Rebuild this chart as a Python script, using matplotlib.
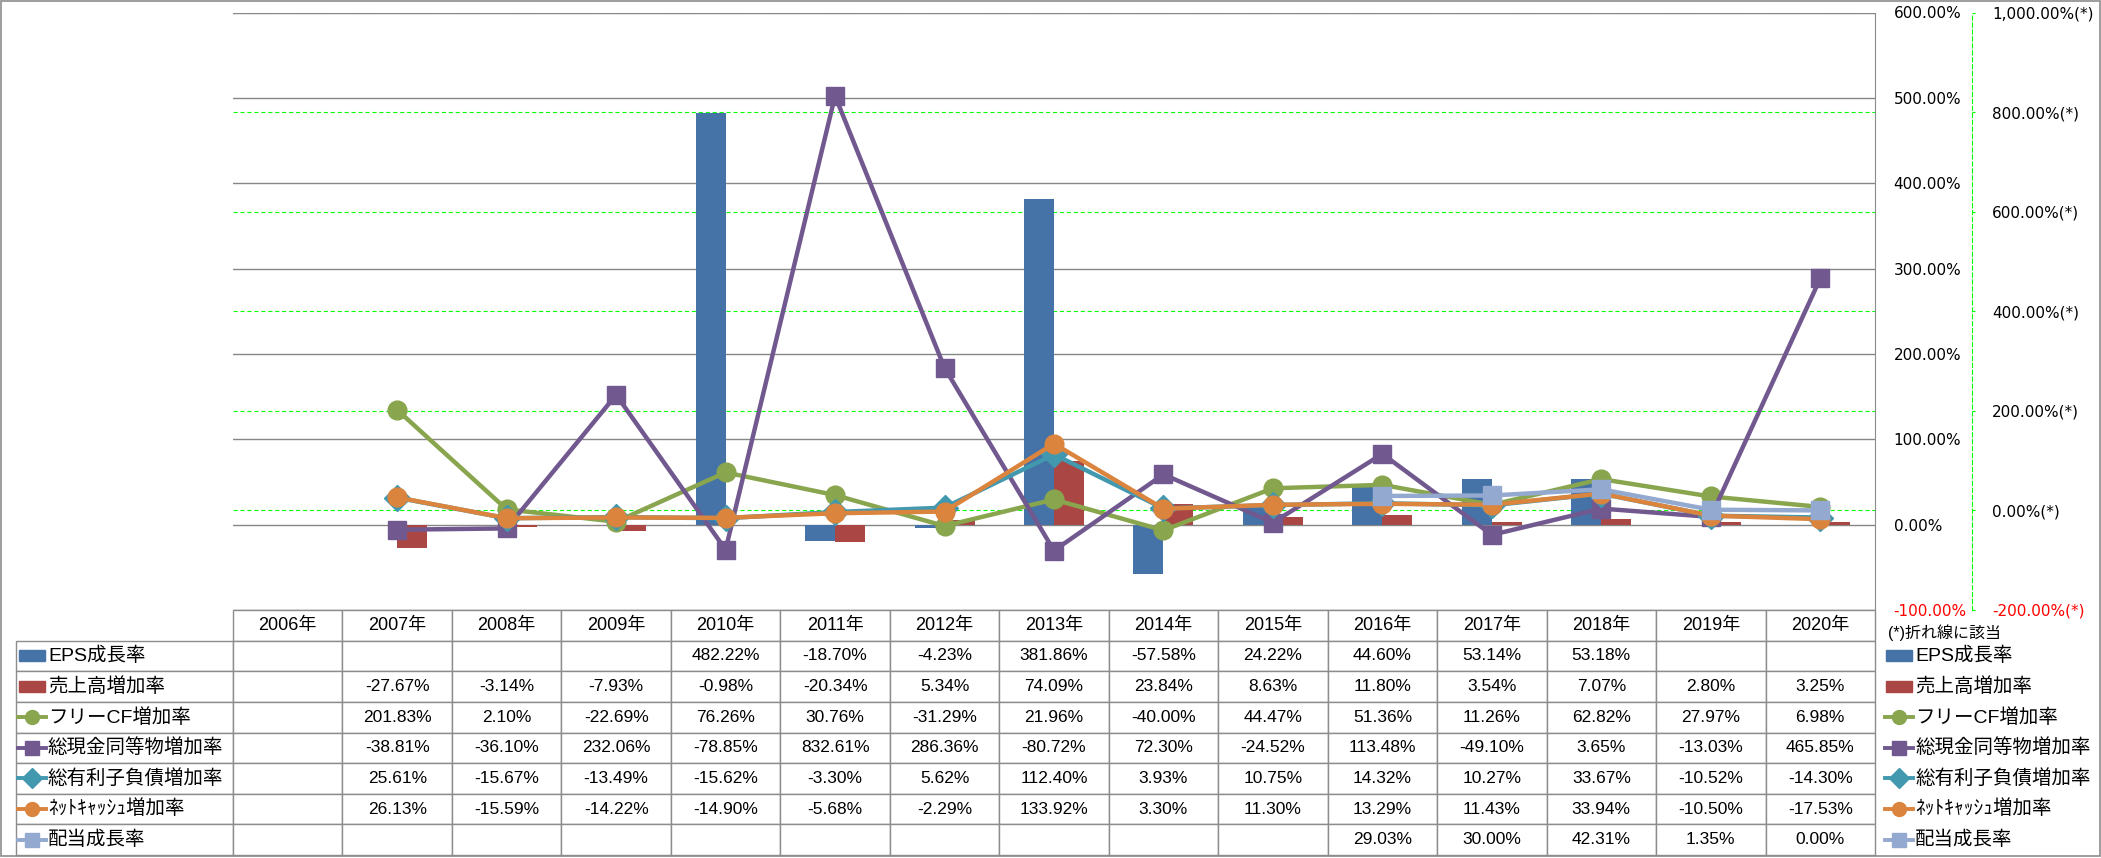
import numpy as np
import matplotlib
matplotlib.use('Agg')
import matplotlib.pyplot as plt
from matplotlib.lines import Line2D
from matplotlib.patches import Rectangle

plt.rcParams['font.family'] = ['DejaVu Sans', 'Noto Sans CJK JP']
plt.rcParams['lines.scale_dashes'] = False

nan = np.nan
years = [f'{y}年' for y in range(2006, 2021)]

# 棒グラフ (左軸)
eps = [nan, nan, nan, nan, 482.22, -18.70, -4.23, 381.86, -57.58, 24.22, 44.60, 53.14, 53.18, nan, nan]
sales = [nan, -27.67, -3.14, -7.93, -0.98, -20.34, 5.34, 74.09, 23.84, 8.63, 11.80, 3.54, 7.07, 2.80, 3.25]
# 折れ線 (右軸 (*))
free_cf = [nan, 201.83, 2.10, -22.69, 76.26, 30.76, -31.29, 21.96, -40.00, 44.47, 51.36, 11.26, 62.82, 27.97, 6.98]
cash = [nan, -38.81, -36.10, 232.06, -78.85, 832.61, 286.36, -80.72, 72.30, -24.52, 113.48, -49.10, 3.65, -13.03, 465.85]
debt = [nan, 25.61, -15.67, -13.49, -15.62, -3.30, 5.62, 112.40, 3.93, 10.75, 14.32, 10.27, 33.67, -10.52, -14.30]
net_cash = [nan, 26.13, -15.59, -14.22, -14.90, -5.68, -2.29, 133.92, 3.30, 11.30, 13.29, 11.43, 33.94, -10.50, -17.53]
dividend = [nan, nan, nan, nan, nan, nan, nan, nan, nan, nan, 29.03, 30.00, 42.31, 1.35, 0.00]

# (名前, 値, 色, マーカー)  マーカーNoneは棒
series = [
    ('EPS成長率', eps, '#4572A7', None),
    ('売上高増加率', sales, '#AA4643', None),
    ('フリーCF増加率', free_cf, '#89A54E', 'o'),
    ('総現金同等物増加率', cash, '#71588F', 's'),
    ('総有利子負債増加率', debt, '#4198AF', 'D'),
    ('ﾈｯﾄｷｬｯｼｭ増加率', net_cash, '#DB843D', 'o'),
    ('配当成長率', dividend, '#93A9CF', 's'),
]

W, H = 2101, 858
L, R, T, B = 233, 1875, 12.5, 610
TB = 855  # 表の下端
LX = 16   # 表の左端
fig = plt.figure(figsize=(W / 100, H / 100), dpi=100)
ax = fig.add_axes([L / W, 1 - B / H, (R - L) / W, (B - T) / H])
axg = ax.twinx()
axl = ax.twinx()
for a, z in ((axg, 1), (ax, 2), (axl, 3)):
    a.set_zorder(z)
    a.patch.set_visible(False)

x = np.arange(len(years))
ax.set_xlim(-0.5, len(years) - 0.5)
bw = 0.274
ax.bar(x - bw / 2, eps, bw, color=series[0][2], zorder=2)
ax.bar(x + bw / 2, sales, bw, color=series[1][2], zorder=2)

# 左(主)軸 -> 右側に表示
ax.set_ylim(-100, 600)
pticks = list(range(-100, 601, 100))
ax.set_yticks(pticks, [f'{v:,.2f}%' for v in pticks])
ax.yaxis.tick_right()
ax.tick_params(axis='y', length=0, pad=13.5, labelsize=11)
ax.set_xticks([])
ax.grid(axis='y', color='#868686', lw=1)
ax.set_axisbelow(True)
for s in ('left', 'top', 'bottom'):
    ax.spines[s].set_visible(False)
ax.spines['right'].set_color('#8c8c8c')
for lbl, v in zip(ax.get_yticklabels(), pticks):
    if v < 0:
        lbl.set_color('#FF0000')

# 第2軸 (*)
axg.set_ylim(-200, 1000)
sticks = list(range(-200, 1001, 200))
axg.set_yticks(sticks, [f'{v:,.2f}%(*)' for v in sticks])
axg.grid(axis='y', color='#00FF00', lw=0.8, linestyle=(0, (3, 2)))
for s in ('left', 'top', 'bottom'):
    axg.spines[s].set_visible(False)
axg.spines['right'].set_position(('axes', (1972 - L) / (R - L)))
axg.spines['right'].set_color('#00FF00')
axg.spines['right'].set_linestyle((0, (3, 2)))
axg.spines['right'].set_linewidth(0.8)
axg.tick_params(axis='y', direction='out', length=2.5, width=0.8, color='#00FF00',
                pad=12, labelsize=11, labelcolor='black')
axg.set_xticks([])
for lbl, v in zip(axg.get_yticklabels(), sticks):
    if v < 0:
        lbl.set_color('#FF0000')

# 折れ線
axl.set_ylim(-200, 1000)
axl.set_axis_off()
for name, vals, col, mk in series[2:]:
    ms = 12.5 if mk == 's' else 13.5
    axl.plot(x, vals, color=col, lw=3.2, marker=mk, ms=ms, mec=col, mfc=col)

# データテーブル (先頭列は系列名の欄)
cell_text = [[''] + ['' if np.isnan(v) else f'{v:.2f}%' for v in vals] for _, vals, _, _ in series]
tbl = ax.table(cellText=cell_text, colLabels=[''] + years, cellLoc='center',
               colWidths=[(L - LX) / (R - L)] + [1 / len(years)] * len(years),
               bbox=[(LX - L) / (R - L), (B - TB) / (B - T), (R - LX) / (R - L), (TB - B) / (B - T)])
tbl.auto_set_font_size(False)
fam = ['Liberation Sans', 'Noto Sans CJK JP']
for (r, c), cell in tbl.get_celld().items():
    cell.set_edgecolor('#8c8c8c')
    cell.set_linewidth(1)
    t = cell.get_text()
    t.set_fontfamily(fam)
    if r == 0 and c == 0:
        cell.set_visible(False)
    elif r == 0:
        t.set_fontsize(13)
    else:
        t.set_fontsize(12.5)

rh = (TB - B) / (len(series) + 1)


def key(x0, yc, col, mk):
    if mk is None:
        fig.add_artist(Rectangle(((x0 + 1) / W, 1 - (yc + 5.5) / H), 26 / W, 11 / H,
                                 transform=fig.transFigure, color=col, zorder=10))
    else:
        fig.add_artist(Line2D([x0 / W, (x0 + 14) / W, (x0 + 28) / W], [1 - yc / H] * 3,
                              transform=fig.transFigure, color=col, lw=2.8, zorder=10,
                              marker=mk, markevery=[1], ms=10, mec=col, mfc=col))


for i, (name, vals, col, mk) in enumerate(series):
    yc = B + rh * (i + 1.5)
    key(18, yc, col, mk)
    key(1885, yc, col, mk)
    fig.text(48 / W, 1 - yc / H, name, fontsize=14, va='center', ha='left', family=fam, zorder=10)
    fig.text(1915 / W, 1 - yc / H, name, fontsize=14, va='center', ha='left', family=fam, zorder=10)

fig.text(1888 / W, 1 - 633 / H, '(*)折れ線に該当', fontsize=11.5, va='center', ha='left', family=fam)

# 枠
fig.add_artist(Rectangle((1 / W, 2 / H), (W - 2.5) / W, (H - 3) / H, transform=fig.transFigure,
                         fill=False, edgecolor='#8c8c8c', lw=1.2, zorder=10))

fig.savefig('out.png', dpi=100)
